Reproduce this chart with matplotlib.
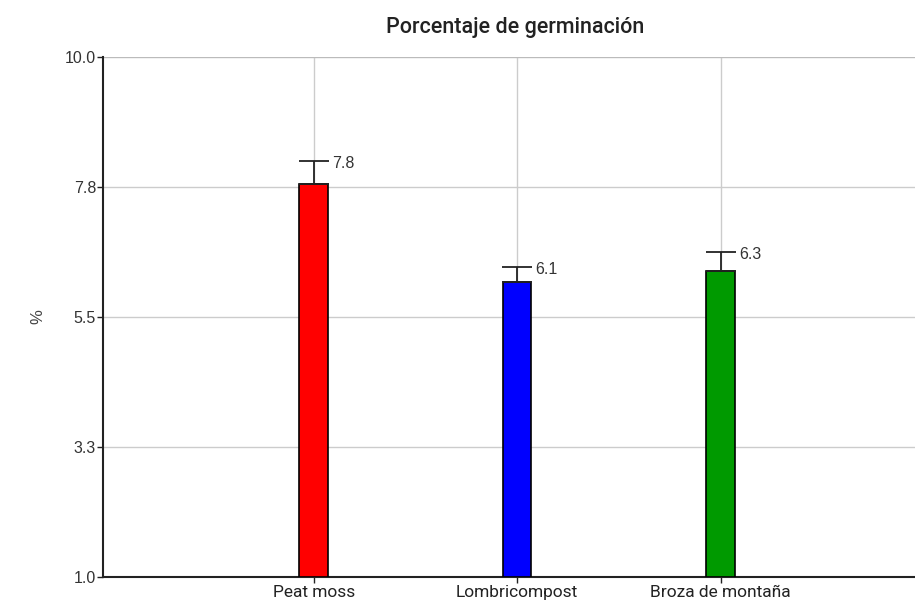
import matplotlib.pyplot as plt

categories = ['Peat moss', 'Lombricompost', 'Broza de montaña']
means = [7.8, 6.1, 6.3]
errors = [0.4, 0.27, 0.33]
colors = ['#ff0000', '#0000ff', '#009a00']
yticks = [1.0, 3.25, 5.5, 7.75, 10.0]
ytick_labels = ['1.0', '3.3', '5.5', '7.8', '10.0']

fig = plt.figure(figsize=(9.15, 6.07), dpi=100)
ax = fig.add_axes([103 / 915, 30 / 607, 812 / 915, 520 / 607])

x = [1, 2, 3]
base = 1.0
ax.bar(x, [m - base for m in means], bottom=base, width=0.14, color=colors,
       edgecolor='black', linewidth=1.2, zorder=3)
ax.errorbar(x, means, yerr=[[0] * 3, errors], fmt='none', ecolor='#222222',
            elinewidth=1.3, capsize=11, capthick=1.3, zorder=4)
for xi, m, e in zip(x, means, errors):
    ax.text(xi + 0.09, m + e - 0.04, f'{m:.1f}', fontsize=11.5, color='#333333',
            family='Liberation Sans', va='center', ha='left', zorder=5)

ax.set_xlim(-0.035, 3.955)
ax.set_ylim(1.0, 10.0)
ax.set_xticks(x)
ax.set_xticklabels(categories, family='Roboto', fontsize=12.5,
                   color='#222222')
ax.set_yticks(yticks)
ax.set_yticklabels(ytick_labels, family='Liberation Sans', fontsize=11.5,
                   color='#333333')
ax.tick_params(axis='both', length=4, width=1, color='#222222')
ax.tick_params(axis='x', pad=2)
ax.tick_params(axis='y', pad=1)
ax.grid(True, color='#cccccc', linewidth=1, zorder=0)
ax.set_axisbelow(True)
for side in ['top', 'right']:
    ax.spines[side].set_visible(False)
for side in ['left', 'bottom']:
    ax.spines[side].set_color('#222222')
    ax.spines[side].set_linewidth(1.5)
ax.axhline(10.0, color='#bbbbbb', linewidth=1.5, zorder=1)

ax.set_ylabel('%', family='Liberation Sans', fontsize=12, color='#444444',
              labelpad=14)
fig.text(515 / 915, 1 - 27 / 607, 'Porcentaje de germinación',
         family='Roboto', fontsize=15.5, fontweight='medium', color='#222222',
         ha='center', va='center')

fig.savefig('out.png', dpi=100)
